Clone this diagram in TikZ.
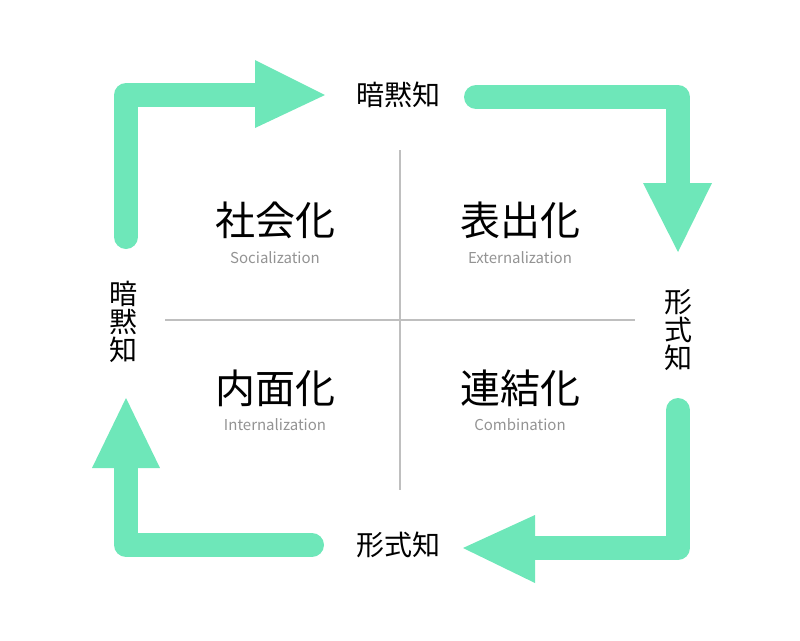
\documentclass[tikz,border=0pt]{standalone}
\usepackage{fontspec}
\setmainfont{Noto Sans CJK JP}
\begin{document}
\begin{tikzpicture}[x=1pt,y=-1pt,
  arr/.style={line width=24pt,draw=mint,line cap=round,line join=round},
  head/.style={fill=mint},
  big/.style={font=\fontsize{40}{44}\selectfont},
  small/.style={font=\fontsize{15}{17}\selectfont,text=gray!85},
  edge/.style={font=\fontsize{28}{30}\selectfont},
  grid/.style={draw=black!25,line width=2.5pt}]
\definecolor{mint}{HTML}{6EE7B9}
\useasboundingbox (0,0) rectangle (800,640);
\coordinate (v1) at (400,150); \coordinate (v2) at (400,490);
\coordinate (h1) at (165,320); \coordinate (h2) at (635,320);
\draw[grid] (v1)--(v2); \draw[grid] (h1)--(h2);
% arrows
\coordinate (a1) at (126,237); \coordinate (a2) at (126,95); \coordinate (a3) at (262,95);
\draw[arr] (a1)--(a2)--(a3);
\fill[head] (255,60)--(325,95)--(255,128)--cycle;
\coordinate (b1) at (476,97); \coordinate (b2) at (678,97); \coordinate (b3) at (678,190);
\draw[arr] (b1)--(b2)--(b3);
\fill[head] (643,183)--(712,183)--(678,252)--cycle;
\coordinate (c1) at (678,410); \coordinate (c2) at (678,548); \coordinate (c3) at (528,548);
\draw[arr] (c1)--(c2)--(c3);
\fill[head] (535,515)--(463,548)--(535,583)--cycle;
\coordinate (d1) at (312,545); \coordinate (d2) at (126,545); \coordinate (d3) at (126,460);
\draw[arr] (d1)--(d2)--(d3);
\fill[head] (92,468)--(126,398)--(160,468)--cycle;
% edge labels
\node[edge] (t1) at (398,95) {暗黙知};
\node[edge] (t2) at (398,545) {形式知};
\node[edge,align=center,inner sep=0pt] (t3) at (123,322) {暗\\[-2pt]黙\\[-2pt]知};
\node[edge,align=center,inner sep=0pt] (t4) at (678,330) {形\\[-2pt]式\\[-2pt]知};
% quadrants
\node[big] (q1) at (275,220) {社会化};
\node[small] (s1) at (275,258) {Socialization};
\node[big] (q2) at (520,220) {表出化};
\node[small] (s2) at (520,258) {Externalization};
\node[big] (q3) at (275,388) {内面化};
\node[small] (s3) at (275,425) {Internalization};
\node[big] (q4) at (520,388) {連結化};
\node[small] (s4) at (520,425) {Combination};
\end{tikzpicture}
\end{document}
